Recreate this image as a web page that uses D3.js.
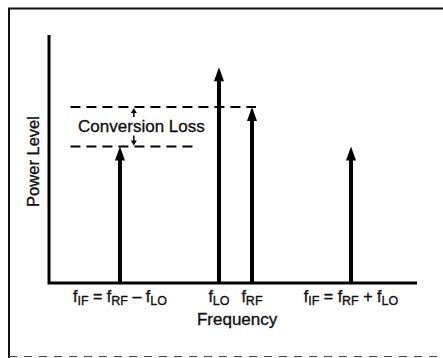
<!DOCTYPE html>
<html><head><meta charset="utf-8">
<script src="https://cdn.jsdelivr.net/npm/d3@7"></script>
<style>
html,body{margin:0;padding:0;background:#fff;}
svg{display:block;}
text{font-family:"Liberation Sans",Arial,Helvetica,sans-serif;fill:#111;stroke:#111;stroke-width:0.35px;}
</style></head>
<body>
<script>
// Spectral lines (schematic units)
const lines = ["fIF_low", "fLO", "fRF", "fIF_high"];
const freqs = [1, 4, 5, 8];
const powers = [5.5, 8.7, 7.1, 5.5];
// tick labels: arrays of [main, subscript] pieces
const tickLabels = [
  [["f","IF"],[" = ",""],["f","RF"],[" \u2013 ",""],["f","LO"]],
  [["f","LO"]],
  [["f","RF"]],
  [["f","IF"],[" = ",""],["f","RF"],[" + ",""],["f","LO"]]
];
const tickCenters = [1, 4, 5, 8];
const xTitle = "Frequency";
const yTitle = "Power Level";
const lossLabel = "Conversion Loss";

const W = 443, H = 358;
const svg = d3.select("body").append("svg").attr("width", W).attr("height", H);

// frame
svg.append("path").attr("d", `M9,${H} L9,8.5 L${W},8.5`)
  .attr("fill","none").attr("stroke","#111").attr("stroke-width",2);
svg.append("line").attr("x1",9).attr("x2",W).attr("y1",H-1.5).attr("y2",H-1.5)
  .attr("stroke","#444").attr("stroke-width",1.2).attr("stroke-dasharray","8,7");

const x = d3.scaleLinear().domain([-1.15, 10]).range([49, 417]);
const y = d3.scaleLinear().domain([0, 10]).range([283, 35]);

// axes
svg.append("path").attr("d", `M${x(-1.15)},${y(10)} L${x(-1.15)},${y(0)} L${x(10)},${y(0)}`)
  .attr("fill","none").attr("stroke","#000").attr("stroke-width",3);

// dashed reference lines
const dashG = svg.append("g").attr("stroke","#000").attr("stroke-width",2).attr("stroke-dasharray","10,6");
dashG.append("line").attr("x1",x(-0.5)).attr("x2",x(5.12)).attr("y1",y(powers[2])).attr("y2",y(powers[2]));
dashG.append("line").attr("x1",x(-0.5)).attr("x2",x(3.3)).attr("y1",y(powers[0])).attr("y2",y(powers[0]));

// spectral arrows
const headW = 10, headH = 14;
const g = svg.append("g");
lines.forEach((k,i)=>{
  const cx = x(freqs[i]), top = y(powers[i]), base = y(0);
  g.append("line").attr("x1",cx).attr("x2",cx).attr("y1",top+headH-1).attr("y2",base)
    .attr("stroke","#000").attr("stroke-width",4);
  g.append("path").attr("d",`M${cx},${top} L${cx-headW/2},${top+headH} L${cx+headW/2},${top+headH} Z`)
    .attr("fill","#000");
});

// dimension arrows for conversion loss
const dx = x(1.42);
const yt = y(powers[2]), yb = y(powers[0]);
svg.append("line").attr("x1",dx).attr("x2",dx).attr("y1",yt+5).attr("y2",yt+10).attr("stroke","#000").attr("stroke-width",1.5);
svg.append("path").attr("d",`M${dx},${yt+1} L${dx-3},${yt+6} L${dx+3},${yt+6} Z`).attr("fill","#000");
svg.append("line").attr("x1",dx).attr("x2",dx).attr("y1",yb-11).attr("y2",yb-5).attr("stroke","#000").attr("stroke-width",1.5);
svg.append("path").attr("d",`M${dx},${yb-1} L${dx-3},${yb-6} L${dx+3},${yb-6} Z`).attr("fill","#000");

svg.append("text").attr("x", x(1.65)).attr("y", 132).attr("text-anchor","middle")
  .attr("font-size",17).text(lossLabel);

// tick labels
tickLabels.forEach((parts,i)=>{
  const t = svg.append("text").attr("x", x(tickCenters[i])).attr("y", 302)
    .attr("text-anchor","middle").attr("font-size",16).attr("xml:space","preserve");
  let lowered = false;
  parts.forEach(([m,s])=>{
    t.append("tspan").attr("dy", lowered ? -3 : 0).text(m);
    lowered = false;
    if (s) { t.append("tspan").attr("font-size",12.5).attr("dy",3).text(s); lowered = true; }
  });
});

// axis titles
svg.append("text").attr("x", x(4.55)).attr("y", 325).attr("text-anchor","middle")
  .attr("font-size",17).text(xTitle);
svg.append("text").attr("transform", `translate(39,${y(4.9)}) rotate(-90)`)
  .attr("text-anchor","middle").attr("font-size",16.5).text(yTitle);
</script>
</body></html>
